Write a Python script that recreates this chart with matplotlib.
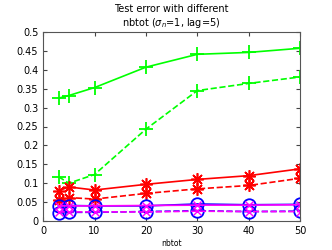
import matplotlib
matplotlib.use('Agg')
import matplotlib.pyplot as plt

nbtot = [3, 5, 10, 20, 30, 40, 50]

green_solid = [0.325, 0.332, 0.353, 0.407, 0.441, 0.446, 0.457]
green_dash = [0.117, 0.100, 0.123, 0.243, 0.345, 0.364, 0.381]
red_solid = [0.080, 0.090, 0.082, 0.097, 0.110, 0.120, 0.138]
red_dash = [0.055, 0.062, 0.058, 0.073, 0.085, 0.094, 0.113]
blue_solid = [0.040, 0.041, 0.040, 0.040, 0.045, 0.043, 0.044]
blue_dash = [0.022, 0.023, 0.023, 0.025, 0.027, 0.025, 0.026]
mag_solid = [0.040, 0.040, 0.040, 0.041, 0.042, 0.042, 0.043]
mag_dash = [0.024, 0.024, 0.024, 0.024, 0.026, 0.025, 0.025]

yticks = [0, 0.05, 0.1, 0.15, 0.2, 0.25, 0.3, 0.35, 0.4, 0.45, 0.5]
ylabels = ['0', '0.05', '0.1', '0.15', '0.2', '0.25', '0.3', '0.35', '0.4', '0.45', '0.5']
xticks = [0, 10, 20, 30, 40, 50]

fig = plt.figure(figsize=(3.32, 2.5), dpi=100)
ax = fig.add_axes([0.13, 0.116, 0.774, 0.756])

lw = 1.2
star = (8, 2, 0)  # matlab-like asterisk
ax.plot(nbtot, green_solid, '-', color='#00ff00', lw=lw, marker='+', ms=10, mew=1.3)
ax.plot(nbtot, green_dash, '--', color='#00ff00', lw=lw, marker='+', ms=10, mew=1.3)
ax.plot(nbtot, red_solid, '-', color='#ff0000', lw=lw, marker=star, ms=9, mew=1.2)
ax.plot(nbtot, red_dash, '--', color='#ff0000', lw=lw, marker=star, ms=9, mew=1.2)
ax.plot(nbtot, blue_solid, '-', color='#0000ff', lw=lw, marker='o', ms=9, mfc='none', mew=1.3)
ax.plot(nbtot, blue_dash, '--', color='#0000ff', lw=lw, marker='o', ms=9, mfc='none', mew=1.3)
ax.plot(nbtot, mag_solid, '-', color='#ff00ff', lw=lw, marker='x', ms=6, mew=1.0)
ax.plot(nbtot, mag_dash, '--', color='#ff00ff', lw=lw, marker='x', ms=6, mew=1.0)

ax.set_xlim(0, 50)
ax.set_ylim(0, 0.5)
ax.set_xticks(xticks)
ax.set_yticks(yticks)
ax.set_yticklabels(ylabels)
ax.tick_params(direction='in', labelsize=7, length=3, top=True, right=True, color='#444444')
for s in ax.spines.values():
    s.set_color('#555555')
    s.set_linewidth(0.8)

ax.set_xlabel('nbtot', fontsize=5.5, labelpad=2)
ax.set_title('Test error with different\nnbtot ($\\sigma_n$=1, lag=5)', fontsize=7, pad=4)

fig.savefig('out.png', dpi=100)
